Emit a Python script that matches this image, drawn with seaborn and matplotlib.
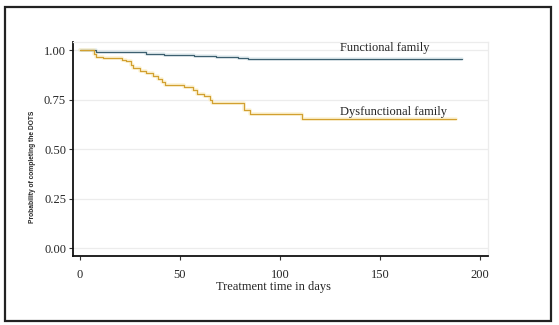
import matplotlib
matplotlib.use("Agg")
import matplotlib.pyplot as plt
import seaborn as sns
import pandas as pd
from matplotlib.patches import Rectangle

# Kaplan-Meier step data
func_days = [0, 8, 17.5, 33, 42, 57, 68, 79, 84, 191]
func_prob = [1.0, 0.994, 0.990, 0.984, 0.979, 0.973, 0.967, 0.960, 0.955, 0.955]

dys_days = [0, 7, 8, 11.5, 21, 23, 25.5, 26.5, 30, 33, 36.5, 39, 41, 42.5,
            52, 56.5, 58.5, 62, 65, 66, 82, 85, 111, 188]
dys_prob = [1.0, 0.982, 0.969, 0.962, 0.953, 0.945, 0.928, 0.911, 0.897, 0.884,
            0.869, 0.855, 0.842, 0.825, 0.813, 0.799, 0.779, 0.769, 0.749, 0.732,
            0.698, 0.681, 0.651, 0.651]

groups = ["Functional family", "Dysfunctional family"]
x_ticks = [0, 50, 100, 150, 200]
y_ticks = [0.00, 0.25, 0.50, 0.75, 1.00]
y_tick_labels = ["0.00", "0.25", "0.50", "0.75", "1.00"]

df = pd.concat([
    pd.DataFrame({"day": func_days, "prob": func_prob, "group": groups[0]}),
    pd.DataFrame({"day": dys_days, "prob": dys_prob, "group": groups[1]}),
], ignore_index=True)

sns.set_style("white")
plt.rcParams["font.family"] = ["Liberation Serif", "DejaVu Serif"]

fig = plt.figure(figsize=(5.59, 3.25), dpi=100)
ax = fig.add_axes([73 / 559, 1 - 256 / 325, (488 - 73) / 559, (256 - 42) / 325])

palette = {groups[0]: "#3d6070", groups[1]: "#d2a030"}
glow = {groups[0]: "#dbe8ec", groups[1]: "#fcefc4"}

# soft halo under the lines
sns.lineplot(data=df, x="day", y="prob", hue="group", palette=glow,
             drawstyle="steps-post", estimator=None, linewidth=2.6,
             alpha=0.7, legend=False, ax=ax, zorder=2)
sns.lineplot(data=df, x="day", y="prob", hue="group", palette=palette,
             drawstyle="steps-post", estimator=None, linewidth=0.9,
             legend=False, ax=ax, zorder=3)

ax.set_xlim(-3.5, 204)
ax.set_ylim(-0.04, 1.043)
ax.set_xticks(x_ticks)
ax.set_xticklabels([str(t) for t in x_ticks])
ax.set_yticks(y_ticks)
ax.set_yticklabels(y_tick_labels)
ax.tick_params(axis="both", labelsize=9, length=3, width=0.8, color="#333333",
               direction="out", pad=2, left=True, bottom=True)
ax.tick_params(axis="x", pad=6)
ax.set_xlabel("")
ax.set_ylabel("")

ax.yaxis.grid(True, color="#ececec", linewidth=0.9)
ax.xaxis.grid(False)
for side in ["left", "bottom"]:
    ax.spines[side].set_color("#111111")
    ax.spines[side].set_linewidth(1.3)
for side in ["top", "right"]:
    ax.spines[side].set_color("#ececec")
    ax.spines[side].set_linewidth(0.9)

ax.text(152.5, 1.013, groups[0], fontsize=9, ha="center", va="center")
ax.text(157, 0.688, groups[1], fontsize=9, ha="center", va="center")

fig.text(274 / 559, 1 - 287 / 325, "Treatment time in days", fontsize=9,
         ha="center", va="center")
fig.text(32 / 559, 1 - 167 / 325, "Probability of completing the DOTS",
         fontsize=4.8, rotation=90, ha="center", va="center", weight="bold",
         family=["Liberation Sans", "DejaVu Sans"])

# outer frame
fig.patches.append(Rectangle((5 / 559, 1 - 321 / 325), (551 - 5) / 559,
                             (321 - 7) / 325, transform=fig.transFigure,
                             fill=False, edgecolor="#222222", linewidth=1.6))

fig.savefig("out.png", dpi=100)
